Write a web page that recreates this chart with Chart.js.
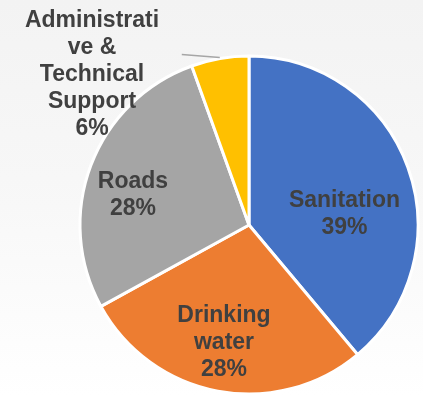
<!DOCTYPE html>
<html>
<head>
<meta charset="utf-8">
<script src="https://cdn.jsdelivr.net/npm/chart.js@4"></script>
<style>
  html, body { margin: 0; padding: 0; }
  body { width: 423px; height: 397px; background: linear-gradient(#f3f3f3, #f7f7f7 45%, #ffffff); }
  #wrap { width: 423px; height: 397px; position: relative; }
</style>
</head>
<body>
<div id="wrap"><canvas id="myChart"></canvas></div>
<script>
// Datos del gráfico
const categories = ["Sanitation", "Drinking water", "Roads", "Administrative & Technical Support"];
const shares = [38.9, 28.1, 27.5, 5.5];
const colors = ["#4472C4", "#ED7D31", "#A5A5A5", "#FFC000"];

// Líneas de texto de cada etiqueta (como en la imagen)
const labelLines = [
    ["Sanitation"],
    ["Drinking", "water"],
    ["Roads"],
    ["Administrati", "ve &", "Technical", "Support"]
];
// Desplazamiento de cada etiqueta respecto al centro (x centro, primera línea base)
const labelOffsets = [
    [95.5, -18],
    [-25, 97],
    [-116, -37],
    [-157, -198]
];

const pieLabels = {
    id: 'pieLabels',
    afterDatasetsDraw(chart) {
        const ctx = chart.ctx;
        const meta = chart.getDatasetMeta(0);
        ctx.save();
        ctx.font = 'bold 23px "Liberation Sans", Arial, sans-serif';
        ctx.fillStyle = '#404040';
        ctx.textAlign = 'center';
        ctx.textBaseline = 'alphabetic';
        meta.data.forEach((arc, i) => {
            const pct = Math.round(shares[i]) + '%';
            const lines = labelLines[i].concat([pct]);
            const [dx, dy] = labelOffsets[i];
            lines.forEach((t, k) => {
                ctx.fillText(t, arc.x + dx, arc.y + dy + k * 27);
            });
        });
        // línea guía para el segmento pequeño
        const arc = meta.data[3];
        const mid = (arc.startAngle + arc.endAngle) / 2;
        const r = arc.outerRadius + 1;
        const px = arc.x + Math.cos(mid) * r;
        const py = arc.y + Math.sin(mid) * r;
        ctx.strokeStyle = '#A6A6A6';
        ctx.lineWidth = 1.5;
        ctx.beginPath();
        ctx.moveTo(px, py);
        ctx.lineTo(px - 38, py - 3);
        ctx.stroke();
        ctx.restore();
    }
};

const config = {
    type: 'pie',
    data: {
        labels: categories,
        datasets: [{
            data: shares,
            backgroundColor: colors,
            borderColor: '#ffffff',
            borderWidth: 3
        }]
    },
    options: {
        responsive: true,
        maintainAspectRatio: false,
        animation: false,
        radius: 169,
        layout: { padding: { left: 80, top: 56, right: 5, bottom: 3 } },
        plugins: {
            legend: { display: false },
            tooltip: { enabled: false }
        }
    },
    plugins: [pieLabels]
};

const ctx = document.getElementById('myChart').getContext('2d');
const myChart = new Chart(ctx, config);
</script>
</body>
</html>
